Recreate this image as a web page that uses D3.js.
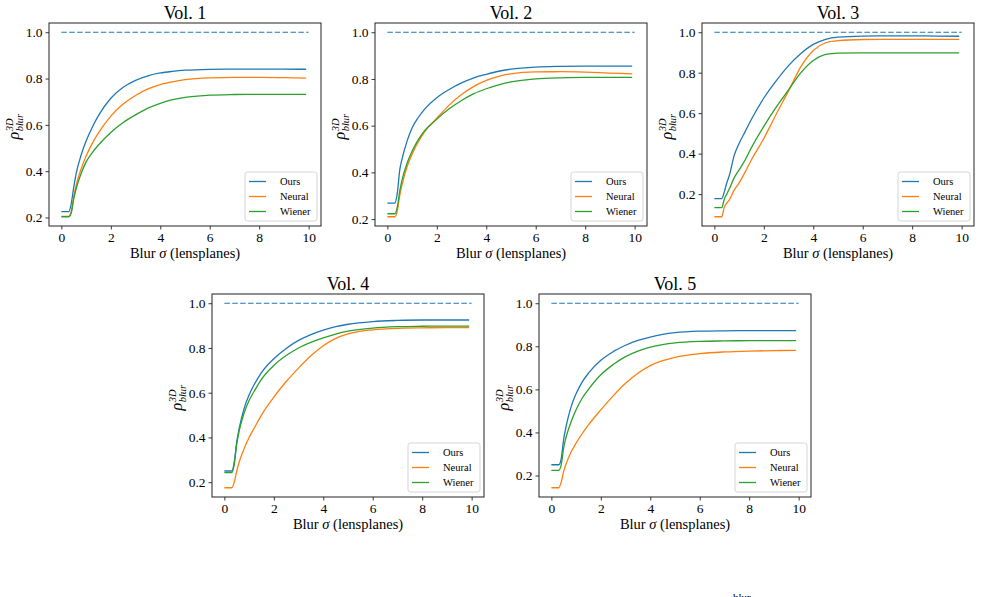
<!DOCTYPE html>
<html>
<head>
<meta charset="utf-8">
<script src="https://cdn.jsdelivr.net/npm/d3@7"></script>
<style>
  body { margin: 0; background: #fff; }
  svg { display: block; }
  text { font-family: "Liberation Serif", "DejaVu Serif", serif; fill: #000; }
</style>
</head>
<body>
<svg></svg>
<script>
// blur sigma samples (lensplanes)
var xs = [0, 0.3, 0.4, 0.5, 0.6, 0.8, 1.0, 1.25, 1.5, 2, 2.5, 3, 3.5, 4, 4.5, 5, 6, 7, 8, 9, 9.9];

// correlation values, one array per method and volume
var vol1Ours   = [0.225, 0.225, 0.26, 0.33, 0.39, 0.47, 0.53, 0.59, 0.64, 0.715, 0.762, 0.792, 0.812, 0.824, 0.831, 0.836, 0.840, 0.841, 0.841, 0.841, 0.840];
var vol1Neural = [0.205, 0.205, 0.225, 0.29, 0.34, 0.41, 0.465, 0.52, 0.565, 0.638, 0.69, 0.727, 0.755, 0.774, 0.786, 0.795, 0.803, 0.805, 0.805, 0.804, 0.802];
var vol1Wiener = [0.203, 0.203, 0.22, 0.28, 0.325, 0.39, 0.44, 0.48, 0.513, 0.567, 0.61, 0.643, 0.672, 0.693, 0.709, 0.719, 0.728, 0.731, 0.732, 0.732, 0.732];

var vol2Ours   = [0.268, 0.268, 0.31, 0.41, 0.46, 0.535, 0.59, 0.635, 0.67, 0.72, 0.755, 0.783, 0.805, 0.82, 0.833, 0.842, 0.851, 0.854, 0.855, 0.855, 0.855];
var vol2Neural = [0.21, 0.21, 0.235, 0.3, 0.35, 0.425, 0.478, 0.53, 0.572, 0.632, 0.688, 0.733, 0.768, 0.794, 0.811, 0.822, 0.83, 0.831, 0.829, 0.825, 0.822];
var vol2Wiener = [0.223, 0.223, 0.25, 0.32, 0.37, 0.44, 0.49, 0.54, 0.578, 0.628, 0.672, 0.708, 0.737, 0.758, 0.775, 0.787, 0.80, 0.805, 0.807, 0.807, 0.807];

var vol3Ours   = [0.178, 0.178, 0.21, 0.255, 0.29, 0.39, 0.45, 0.51, 0.57, 0.675, 0.76, 0.835, 0.895, 0.94, 0.965, 0.976, 0.981, 0.982, 0.982, 0.981, 0.98];
var vol3Neural = [0.088, 0.088, 0.135, 0.155, 0.17, 0.22, 0.255, 0.31, 0.37, 0.475, 0.595, 0.71, 0.83, 0.91, 0.948, 0.959, 0.964, 0.965, 0.965, 0.965, 0.965];
var vol3Wiener = [0.133, 0.133, 0.175, 0.2, 0.225, 0.28, 0.32, 0.37, 0.43, 0.535, 0.63, 0.715, 0.8, 0.86, 0.89, 0.897, 0.898, 0.898, 0.898, 0.898, 0.898];

var vol4Ours   = [0.25, 0.25, 0.29, 0.38, 0.44, 0.53, 0.59, 0.645, 0.69, 0.752, 0.798, 0.834, 0.86, 0.88, 0.895, 0.906, 0.918, 0.923, 0.925, 0.925, 0.925];
var vol4Neural = [0.175, 0.175, 0.2, 0.25, 0.29, 0.35, 0.40, 0.45, 0.50, 0.58, 0.65, 0.71, 0.765, 0.81, 0.843, 0.863, 0.881, 0.888, 0.89, 0.891, 0.891];
var vol4Wiener = [0.243, 0.243, 0.28, 0.37, 0.43, 0.51, 0.565, 0.615, 0.66, 0.722, 0.766, 0.8, 0.825, 0.845, 0.862, 0.875, 0.889, 0.895, 0.897, 0.898, 0.898];

var vol5Ours   = [0.25, 0.25, 0.28, 0.37, 0.43, 0.52, 0.58, 0.635, 0.675, 0.735, 0.775, 0.805, 0.827, 0.843, 0.855, 0.863, 0.87, 0.872, 0.873, 0.873, 0.873];
var vol5Neural = [0.143, 0.143, 0.17, 0.22, 0.255, 0.31, 0.35, 0.395, 0.435, 0.505, 0.57, 0.628, 0.675, 0.71, 0.733, 0.749, 0.766, 0.774, 0.778, 0.78, 0.781];
var vol5Wiener = [0.224, 0.224, 0.25, 0.33, 0.38, 0.45, 0.505, 0.56, 0.6, 0.668, 0.715, 0.752, 0.778, 0.796, 0.808, 0.816, 0.823, 0.825, 0.826, 0.826, 0.826];

// reference line (perfect correlation)
var referenceX = [0, 10];
var referenceY = [1.0, 1.0];

var titles = ["Vol. 1", "Vol. 2", "Vol. 3", "Vol. 4", "Vol. 5"];
var methods = ["Ours", "Neural", "Wiener"];
var xTicks = [0, 2, 4, 6, 8, 10];
var yTicks = [0.2, 0.4, 0.6, 0.8, 1.0];

var volumes = [
  [vol1Ours, vol1Neural, vol1Wiener],
  [vol2Ours, vol2Neural, vol2Wiener],
  [vol3Ours, vol3Neural, vol3Wiener],
  [vol4Ours, vol4Neural, vol4Wiener],
  [vol5Ours, vol5Neural, vol5Wiener]
];

var colors = ["#1f77b4", "#ff7f0e", "#2ca02c"];

// panel boxes in the page
var panelW = 272, panelH = 203;
var panelPos = [[49, 23], [375, 23], [702, 23], [212, 294], [539, 294]];

var svg = d3.select("svg")
    .attr("width", 981)
    .attr("height", 597);

// matplotlib style 5% margins
function padded(lo, hi) {
  var m = (hi - lo) * 0.05;
  return [lo - m, hi + m];
}

volumes.forEach(function(series, k) {
  var g = svg.append("g")
      .attr("transform", "translate(" + panelPos[k][0] + "," + panelPos[k][1] + ")");

  var allY = d3.merge(series).concat(referenceY);

  var x = d3.scaleLinear()
      .domain(padded(0, 10))
      .range([0, panelW]);

  var y = d3.scaleLinear()
      .domain(padded(d3.min(allY), d3.max(allY)))
      .range([panelH, 0]);

  var line = d3.line()
      .x(function(d) { return x(d[0]); })
      .y(function(d) { return y(d[1]); })
      .curve(d3.curveMonotoneX);

  // dashed reference line
  g.append("path")
      .datum(d3.zip(referenceX, referenceY))
      .attr("d", line)
      .attr("fill", "none")
      .attr("stroke", colors[0])
      .attr("stroke-width", 1.2)
      .attr("stroke-dasharray", "5.5,2.4");

  // one line per method
  series.forEach(function(vals, i) {
    g.append("path")
        .datum(d3.zip(xs, vals))
        .attr("d", line)
        .attr("fill", "none")
        .attr("stroke", colors[i])
        .attr("stroke-width", 1.3);
  });

  // axes
  var xAxis = d3.axisBottom(x)
      .tickValues(xTicks)
      .tickSize(3.5)
      .tickPadding(3)
      .tickFormat(d3.format("d"));

  var yAxis = d3.axisLeft(y)
      .tickValues(yTicks)
      .tickSize(3.5)
      .tickPadding(3)
      .tickFormat(d3.format(".1f"));

  var gx = g.append("g")
      .attr("transform", "translate(0," + panelH + ")")
      .call(xAxis);
  var gy = g.append("g").call(yAxis);

  [gx, gy].forEach(function(a) {
    a.attr("font-family", null).attr("font-size", null);
    a.select(".domain").remove();
    a.selectAll(".tick line").attr("stroke", "#222").attr("stroke-width", 0.9);
    a.selectAll(".tick text")
        .style("font-family", "'Liberation Serif', serif")
        .style("font-size", "13.5px")
        .style("fill", "#000");
  });

  // frame
  g.append("rect")
      .attr("width", panelW)
      .attr("height", panelH)
      .attr("fill", "none")
      .attr("stroke", "#222")
      .attr("stroke-width", 1);

  // title
  g.append("text")
      .attr("x", panelW / 2)
      .attr("y", -4)
      .attr("text-anchor", "middle")
      .attr("font-size", 18)
      .text(titles[k]);

  // x label with italic sigma
  var xl = g.append("text")
      .attr("x", panelW / 2)
      .attr("y", panelH + 32)
      .attr("text-anchor", "middle")
      .attr("font-size", 14.5);
  xl.append("tspan").text("Blur ");
  xl.append("tspan").attr("font-style", "italic").text("\u03c3");
  xl.append("tspan").text(" (lensplanes)");

  // y label: rho with stacked 3D / blur scripts
  var yl = g.append("g")
      .attr("transform", "translate(-30," + (panelH / 2 - 1) + ") rotate(-90)");
  var rho = yl.append("text")
      .attr("x", -16)
      .attr("y", 0)
      .attr("font-size", 16)
      .attr("font-style", "italic")
      .text("\u03c1");
  var rx = -16 + rho.node().getComputedTextLength() + 0.5;
  yl.append("text")
      .attr("x", rx)
      .attr("y", -6.5)
      .attr("font-size", 10.5)
      .attr("font-style", "italic")
      .text("3D");
  yl.append("text")
      .attr("x", rx)
      .attr("y", 3.5)
      .attr("font-size", 10.5)
      .attr("font-style", "italic")
      .text("blur");

  // legend
  var lw = 72, lh = 49;
  var lg = g.append("g")
      .attr("transform", "translate(" + (panelW - lw - 4) + "," + (panelH - lh - 5) + ")");
  lg.append("rect")
      .attr("width", lw)
      .attr("height", lh)
      .attr("rx", 2.5)
      .attr("fill", "#fff")
      .attr("fill-opacity", 0.8)
      .attr("stroke", "#d0d0d0")
      .attr("stroke-width", 0.9);
  methods.forEach(function(name, i) {
    var yy = 9.5 + i * 15;
    lg.append("line")
        .attr("x1", 4).attr("x2", 21)
        .attr("y1", yy).attr("y2", yy)
        .attr("stroke", colors[i])
        .attr("stroke-width", 1.3);
    lg.append("text")
        .attr("x", 35)
        .attr("y", yy + 3.5)
        .attr("font-size", 10.5)
        .text(name);
  });
});

// clipped caption fragment at the very bottom
svg.append("text")
    .attr("x", 733)
    .attr("y", 601)
    .attr("font-size", 11)
    .attr("fill", "#666")
    .text("blur \u00b7 \u00b7");
</script>
</body>
</html>
